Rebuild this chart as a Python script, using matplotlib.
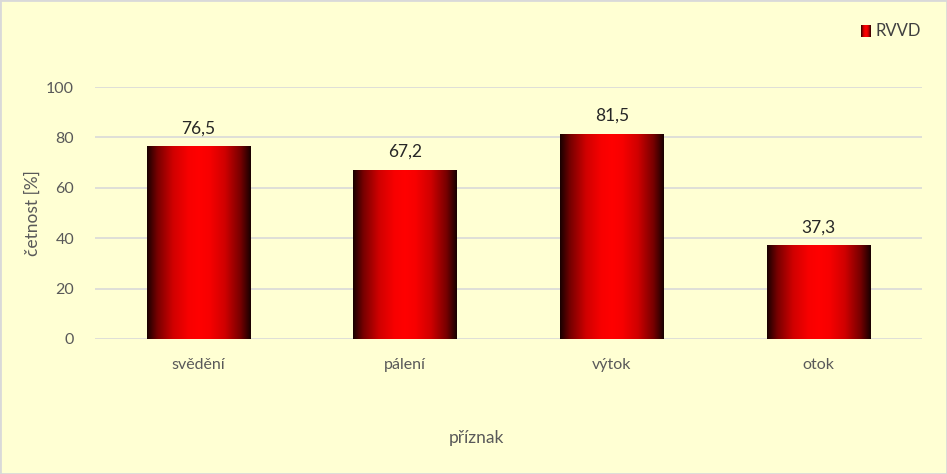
import numpy as np
import matplotlib
matplotlib.use("Agg")
import matplotlib.pyplot as plt
from matplotlib.colors import LinearSegmentedColormap
from matplotlib.patches import Rectangle

categories = ["svědění", "pálení", "výtok", "otok"]
values = [76.5, 67.2, 81.5, 37.3]
labels = ["76,5", "67,2", "81,5", "37,3"]
yticks = [0, 20, 40, 60, 80, 100]
series_name = "RVVD"

plt.rcParams['font.family'] = ['Lato', 'DejaVu Sans']
bg = "#FFFFD3"
grey = "#595959"

fig = plt.figure(figsize=(9.47, 4.74), dpi=100, facecolor=bg)
fig.patches.append(Rectangle((0, 0), 1, 1, transform=fig.transFigure,
                             fill=False, edgecolor="#D9D9D9", linewidth=2))
ax = fig.add_axes([95/947, (474-339)/474, (922-95)/947, (339-87)/474])
ax.set_facecolor(bg)

cmap = LinearSegmentedColormap.from_list(
    "g", [(0, "#180000"), (0.1, "#780000"), (0.25, "#D00000"), (0.4, "#F80000"),
          (0.5, "#FF0000"), (0.6, "#F80000"), (0.75, "#D00000"), (0.9, "#780000"),
          (1, "#180000")])
grad = np.linspace(0, 1, 256).reshape(1, -1)

x = np.arange(len(categories))
bars = ax.bar(x, values, width=0.5, color="none", edgecolor="none", zorder=2)
for b in bars:
    x0, y0 = b.get_x(), b.get_y()
    w, h = b.get_width(), b.get_height()
    im = ax.imshow(grad, cmap=cmap, aspect="auto", extent=[x0, x0 + w, y0, y0 + h],
                   interpolation="bicubic", zorder=2)
    im.set_clip_path(b)

for xi, v, lab in zip(x, values, labels):
    ax.annotate(lab, (xi, v), xytext=(0, 7), textcoords="offset points",
                ha="center", va="bottom", fontsize=12.5, color="#262626")

ax.set_xlim(-0.5, len(categories) - 0.5)
ax.set_ylim(0, 100)
ax.set_yticks(yticks)
ax.set_yticklabels([str(t) for t in yticks], fontsize=11.5, color=grey)
ax.set_xticks(x)
ax.set_xticklabels(categories, fontsize=11.5, color=grey)
ax.tick_params(length=0)
ax.tick_params(axis='x', pad=14)
ax.tick_params(axis='y', pad=15)
ax.grid(axis='y', color="#D9D9D9", linewidth=1.2, zorder=0)
ax.set_axisbelow(True)
for s in ax.spines.values():
    s.set_visible(False)

fig.text(33/947, 1 - 213/474, "četnost [%]", rotation=90, ha="center", va="center",
         fontsize=12.5, color=grey)
fig.text(476/947, 1 - 438/474, "příznak", ha="center", va="center", fontsize=12.5, color=grey)

# legend
lx, ly = 866/947, 1 - 31/474
leg = np.linspace(0.1, 0.5, 64).reshape(1, -1)
lax = fig.add_axes([lx - 5/947, ly - 6/474, 9/947, 12/474])
lax.imshow(leg, cmap=cmap, aspect="auto", interpolation="bicubic")
lax.axis("off")
fig.text(lx + 9/947, ly, series_name, ha="left", va="center", fontsize=12, color="#404040")

fig.savefig("out.png", dpi=100, facecolor=bg)
